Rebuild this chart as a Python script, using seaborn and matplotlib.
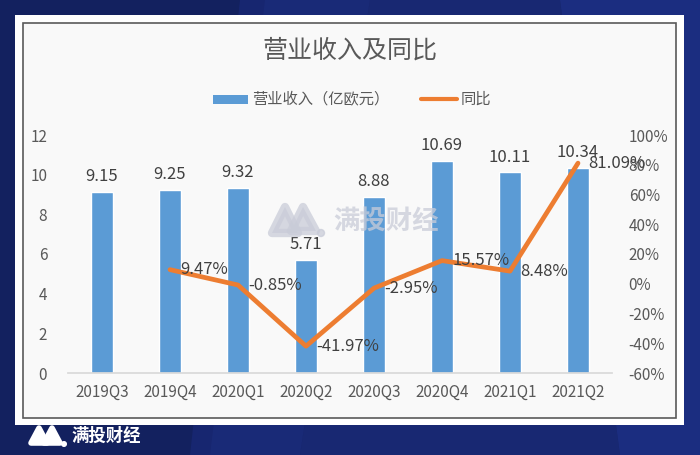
import matplotlib
matplotlib.use("Agg")
import matplotlib.pyplot as plt
import seaborn as sns
import pandas as pd
import numpy as np
from matplotlib.patches import Rectangle, Polygon, Circle

quarters = ["2019Q3", "2019Q4", "2020Q1", "2020Q2", "2020Q3", "2020Q4", "2021Q1", "2021Q2"]
revenue = [9.15, 9.25, 9.32, 5.71, 8.88, 10.69, 10.11, 10.34]
yoy = [None, 9.47, -0.85, -41.97, -2.95, 15.57, 8.48, 81.09]
left_ticks = [0, 2, 4, 6, 8, 10, 12]
right_ticks = [-60, -40, -20, 0, 20, 40, 60, 80, 100]

sns.set_theme(style="white")
plt.rcParams['font.family'] = ['Noto Sans CJK SC', 'DejaVu Sans']

W, H = 700, 455
fig = plt.figure(figsize=(7, 4.55), dpi=100)
fig.patch.set_facecolor("#172670")

def fx(x):
    return x / W
def fy(y):
    return 1 - y / H

# background decorative diagonal shapes
bg = fig.add_axes([0, 0, 1, 1], zorder=-10)
bg.set_xlim(0, W); bg.set_ylim(H, 0); bg.axis("off")
bg.add_patch(Polygon([(0, 0), (240, 0), (190, 455), (0, 455)], closed=True, color="#13215f", lw=0))
bg.add_patch(Polygon([(265, 0), (370, 0), (300, 455), (210, 455)], closed=True, color="#1b2c7a", lw=0, alpha=0.7))
bg.add_patch(Polygon([(560, 0), (700, 0), (700, 455), (620, 455)], closed=True, color="#1d3085", lw=0, alpha=0.8))
bg.add_patch(Polygon([(370, 0), (560, 0), (620, 455), (300, 455)], closed=True, color="#182872", lw=0))
# card
bg.add_patch(Rectangle((15, 15), 669, 410, facecolor="white", edgecolor="none"))
bg.add_patch(Rectangle((23, 23), 653, 395, facecolor="#f9f9f9", edgecolor="#5a5a5a", lw=1.2))

# bottom logo
bg.add_patch(Polygon([(31, 443), (39, 428), (47, 443)], closed=True, color="white", lw=4, joinstyle="round"))
bg.add_patch(Polygon([(44, 443), (52, 428), (60, 443)], closed=True, color="white", lw=4, joinstyle="round"))
bg.add_patch(Circle((64, 444), 2.3, color="white"))
bg.text(71, 436, "满投财经", fontsize=12.5, color="white", fontweight="bold", va="center", ha="left")

# title + legend
bg.text(350, 51, "营业收入及同比", fontsize=18, color="#595959", ha="center", va="center")
bg.add_patch(Rectangle((213, 95), 35, 9, facecolor="#5B9BD5", edgecolor="none"))
bg.text(252, 99, "营业收入（亿欧元）", fontsize=11, color="#595959", ha="left", va="center")
bg.plot([421, 457], [99, 99], color="#ED7D31", lw=3, solid_capstyle="round")
bg.text(461, 99, "同比", fontsize=11, color="#595959", ha="left", va="center")

# main axes
ax = fig.add_axes([fx(68), fy(373), fx(612) - fx(68), fy(135) - fy(373)])
ax.set_facecolor("none")
df = pd.DataFrame({"quarter": quarters, "revenue": revenue, "yoy": yoy})
sns.barplot(data=df, x="quarter", y="revenue", color="#5B9BD5", saturation=1, width=0.31, ax=ax)
ax.set_xlim(-0.5, len(quarters) - 0.5)
ax.set_ylim(0, 12)
ax.set_yticks(left_ticks)
ax.set_yticklabels([str(t) for t in left_ticks])
ax.set_xlabel(""); ax.set_ylabel("")
for s in ["top", "left", "right"]:
    ax.spines[s].set_visible(False)
ax.spines["bottom"].set_color("#d9d9d9")
ax.tick_params(axis="both", length=0, labelsize=11, labelcolor="#595959")
ax.tick_params(axis="y", pad=15)
ax.tick_params(axis="x", pad=8)
for i, v in enumerate(revenue):
    ax.text(i, v + 0.35, f"{v:.2f}", ha="center", va="bottom", fontsize=12, color="#404040")

ax2 = ax.twinx()
ax2.set_ylim(-60, 100)
ax2.set_yticks(right_ticks)
ax2.set_yticklabels([f"{t}%" for t in right_ticks])
ax2.tick_params(axis="y", length=0, labelsize=11, labelcolor="#595959", pad=12)
for s in ["top", "left", "right", "bottom"]:
    ax2.spines[s].set_visible(False)
ldf = df.dropna(subset=["yoy"]).copy()
ldf["x"] = [quarters.index(q) for q in ldf["quarter"]]
sns.lineplot(data=ldf, x="x", y="yoy", color="#ED7D31", lw=3.4, ax=ax2, legend=False)
ax2.set_xlim(-0.5, len(quarters) - 0.5)
ax2.set_xlabel(""); ax2.set_ylabel("")
for xi, v in zip(ldf["x"], ldf["yoy"]):
    ax2.text(xi + 0.15, v, f"{v:.2f}%", ha="left", va="center", fontsize=12, color="#404040")

# watermark overlay
top = fig.add_axes([0, 0, 1, 1], zorder=10)
top.set_xlim(0, W); top.set_ylim(H, 0); top.axis("off"); top.patch.set_alpha(0)
wm = "#c9ccd8"
top.add_patch(Polygon([(272, 233), (285, 207), (298, 233)], closed=True, color=wm, lw=6, joinstyle="round", alpha=0.75))
top.add_patch(Polygon([(291, 231), (303, 207), (316, 231)], closed=True, color=wm, lw=6, joinstyle="round", alpha=0.75))
top.add_patch(Circle((321, 233), 3.5, color=wm, alpha=0.75))
top.text(333, 221, "满投财经", fontsize=19, color=wm, fontweight="bold", va="center", ha="left", alpha=0.75)

fig.savefig("out.png", dpi=100, facecolor=fig.get_facecolor())
